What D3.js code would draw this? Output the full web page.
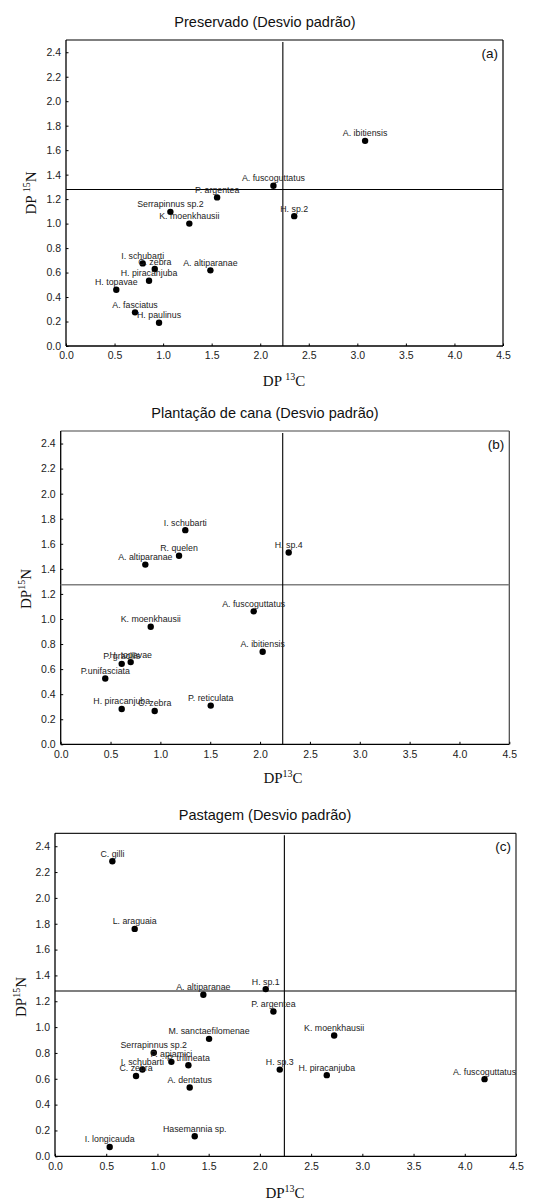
<!DOCTYPE html>
<html><head><meta charset="utf-8">
<script src="https://cdn.jsdelivr.net/npm/d3@7"></script>
<style>body{margin:0;background:#fff}svg{display:block}</style>
</head><body>
<svg id="chart" width="535" height="1202"></svg>
<script>
// ---------- data ----------
const xTicks = [0, 0.5, 1.0, 1.5, 2.0, 2.5, 3.0, 3.5, 4.0, 4.5];
const yTicks = [0, 0.2, 0.4, 0.6, 0.8, 1.0, 1.2, 1.4, 1.6, 1.8, 2.0, 2.2, 2.4];
const panelTitles = ["Preservado (Desvio padrão)", "Plantação de cana (Desvio padrão)", "Pastagem (Desvio padrão)"];
const panelTags = ["(a)", "(b)", "(c)"];
const refX = [2.233, 2.227, 2.239];
const refY = [1.279, 1.274, 1.279];

const aNames = ["A. ibitiensis","A. fuscoguttatus","P. argentea","H. sp.2","Serrapinnus sp.2","K. moenkhausii","I. schubarti","C. zebra","A. altiparanae","H. piracanjuba","H. topavae","A. fasciatus","H. paulinus"];
const aX = [3.08, 2.136, 1.556, 2.35, 1.075, 1.27, 0.79, 0.914, 1.487, 0.855, 0.518, 0.711, 0.958];
const aY = [1.676, 1.309, 1.214, 1.061, 1.096, 1.0, 0.675, 0.629, 0.618, 0.533, 0.46, 0.275, 0.19];

const bNames = ["I. schubarti","H. sp.4","R. quelen","A. altiparanae","A. fuscoguttatus","K. moenkhausii","A. ibitiensis","H. topavae","P. gracilis","P.unifasciata","H. piracanjuba","C. zebra","P. reticulata"];
const bX = [1.25, 2.287, 1.187, 0.849, 1.936, 0.903, 2.026, 0.702, 0.612, 0.447, 0.612, 0.943, 1.505];
const bY = [1.709, 1.53, 1.504, 1.434, 1.061, 0.938, 0.738, 0.656, 0.642, 0.525, 0.282, 0.266, 0.309];

const cNames = ["C. gilli","L. araguaia","H. sp.1","A. altiparanae","P. argentea","K. moenkhausii","M. sanctaefilomenae","Serrapinnus sp.2","P. apiamici","P. trilineata","I. schubarti","H. sp.3","C. zebra","H. piracanjuba","A. fuscoguttatus","A. dentatus","Hasemannia sp.","I. longicauda"];
const cX = [0.56, 0.778, 2.057, 1.448, 2.132, 2.725, 1.504, 0.964, 1.136, 1.302, 0.853, 2.194, 0.791, 2.653, 4.193, 1.315, 1.364, 0.534];
const cY = [2.284, 1.76, 1.294, 1.25, 1.121, 0.935, 0.909, 0.801, 0.731, 0.705, 0.671, 0.671, 0.622, 0.628, 0.597, 0.532, 0.155, 0.072];

// ---------- layout ----------
const boxes = [
  {l: 66, r: 503, t: 40, b: 346, titleY: 22, xtX: 284, xtY: 386, ytX: 36, ytY: 193, space: true, frame: "#000", hColor: "#000"},
  {l: 60.7, r: 509.3, t: 431, b: 744.3, titleY: 413, xtX: 283, xtY: 783, ytX: 31, ytY: 589, space: false, frame: "#444", hColor: "#808080"},
  {l: 55, r: 516, t: 833.3, b: 1156.3, titleY: 815, xtX: 285, xtY: 1198, ytX: 26, ytY: 997, space: false, frame: "#222", hColor: "#000"}
];
const datasets = [[aNames, aX, aY], [bNames, bX, bY], [cNames, cX, cY]];

const svg = d3.select("#chart");
const sans = "'Liberation Sans', Arial, sans-serif";
const serif = "'Liberation Serif', 'Times New Roman', serif";

boxes.forEach((bx, i) => {
  const [names, xs, ys] = datasets[i];
  const x = d3.scaleLinear().domain([0, 4.5]).range([bx.l, bx.r]);
  const y = d3.scaleLinear().domain([0, 2.5]).range([bx.b, bx.t]);
  const g = svg.append("g");

  // title
  g.append("text").attr("x", 265).attr("y", bx.titleY).attr("dy", "0.35em")
    .attr("text-anchor", "middle").attr("font-family", sans).attr("font-size", 14.5)
    .attr("fill", "#111").text(panelTitles[i]);

  // frame top/right
  g.append("line").attr("x1", bx.l).attr("x2", bx.r).attr("y1", bx.t).attr("y2", bx.t)
    .attr("stroke", bx.frame).attr("stroke-width", 1.2);
  g.append("line").attr("x1", bx.r).attr("x2", bx.r).attr("y1", bx.t).attr("y2", bx.b)
    .attr("stroke", bx.frame).attr("stroke-width", 1.2);

  // axes
  const xAxis = d3.axisBottom(x).tickValues(xTicks).tickFormat(d3.format(".1f")).tickSizeInner(-2.5).tickSizeOuter(0).tickPadding(6);
  const yAxis = d3.axisLeft(y).tickValues(yTicks).tickFormat(d3.format(".1f")).tickSizeInner(-2.5).tickSizeOuter(0).tickPadding(5);
  const gx = g.append("g").attr("transform", `translate(0,${bx.b})`).call(xAxis);
  const gy = g.append("g").attr("transform", `translate(${bx.l},0)`).call(yAxis);
  [gx, gy].forEach(a => {
    a.select(".domain").attr("stroke", "#000").attr("stroke-width", 1.3);
    a.selectAll(".tick line").attr("stroke", "#000");
    a.selectAll(".tick text").attr("font-family", sans).attr("font-size", 10.5).attr("fill", "#222");
  });
  gx.select(".domain").attr("d", `M${bx.l},0H${bx.r}`);
  gy.select(".domain").attr("d", `M0,${bx.t}V${bx.b}`);

  // reference lines
  g.append("line").attr("x1", bx.l).attr("x2", bx.r).attr("y1", y(refY[i])).attr("y2", y(refY[i]))
    .attr("stroke", bx.hColor).attr("stroke-width", i === 1 ? 1.5 : 1.1);
  g.append("line").attr("x1", x(refX[i])).attr("x2", x(refX[i])).attr("y1", bx.t + 2).attr("y2", bx.b)
    .attr("stroke", "#000").attr("stroke-width", 1.1);

  // points
  g.selectAll("circle.pt").data(names).join("circle").attr("class", "pt")
    .attr("cx", (d, j) => x(xs[j])).attr("cy", (d, j) => y(ys[j])).attr("r", 3.2).attr("fill", "#000");
  g.selectAll("text.lab").data(names).join("text").attr("class", "lab")
    .attr("x", (d, j) => x(xs[j])).attr("y", (d, j) => y(ys[j]) - 4.5)
    .attr("text-anchor", "middle").attr("font-family", sans).attr("font-size", 8.8)
    .attr("fill", "#222").text(d => d);

  // tag
  g.append("text").attr("x", bx.r - 5).attr("y", bx.t + 17.5).attr("text-anchor", "end")
    .attr("font-family", sans).attr("font-size", 13.5).attr("fill", "#111").text(panelTags[i]);

  // axis titles
  const xt = g.append("text").attr("x", bx.xtX).attr("y", bx.xtY).attr("text-anchor", "middle")
    .attr("font-family", serif).attr("font-size", 15).attr("fill", "#111");
  xt.append("tspan").text(bx.space ? "DP " : "DP");
  xt.append("tspan").attr("font-size", 10).attr("dy", -6).text("13");
  xt.append("tspan").attr("dy", 6).text("C");

  const yt = g.append("text").attr("transform", `translate(${bx.ytX},${bx.ytY}) rotate(-90)`)
    .attr("text-anchor", "middle").attr("font-family", serif).attr("font-size", 15).attr("fill", "#111");
  yt.append("tspan").text(bx.space ? "DP " : "DP");
  yt.append("tspan").attr("font-size", 10).attr("dy", -6).text("15");
  yt.append("tspan").attr("dy", 6).text("N");
});
</script>
</body></html>
